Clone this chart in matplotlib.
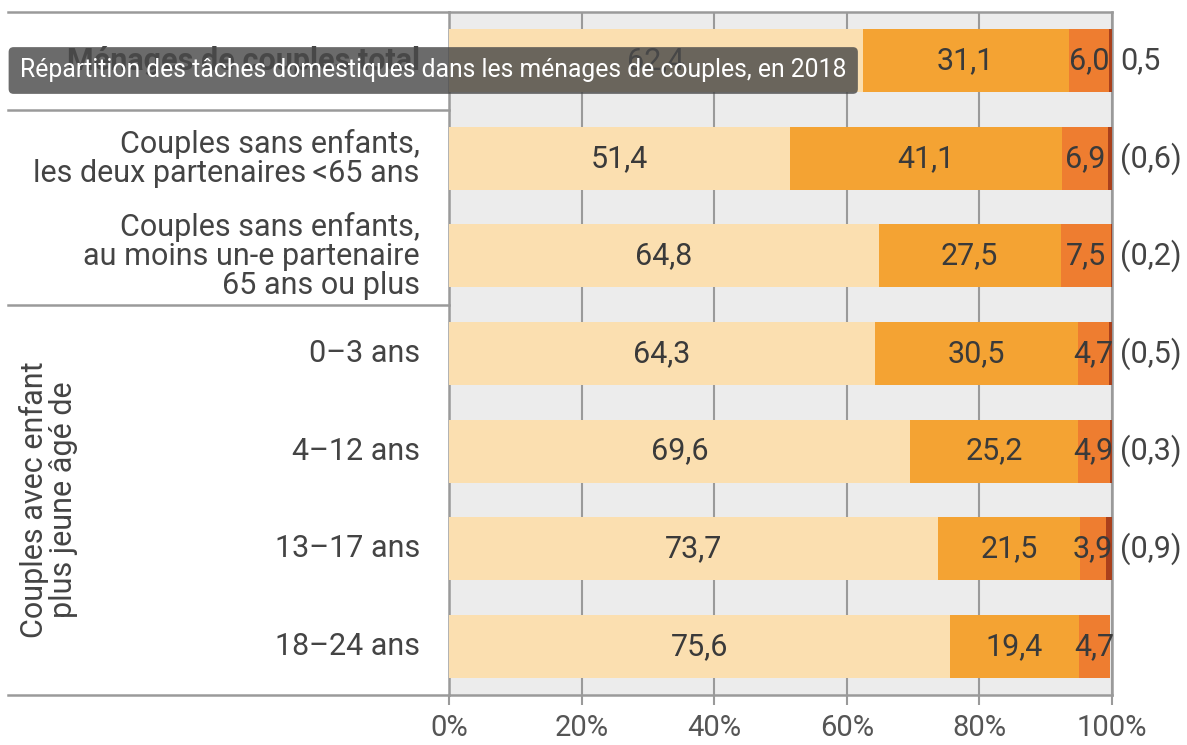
"""
Répartition des tâches domestiques dans les ménages de couples, en 2018.
"""
import numpy as np
import matplotlib.pyplot as plt
import matplotlib.transforms as mtransforms

plt.rcParams['font.family'] = ['Roboto', 'DejaVu Sans']

# Données
categories = [
    "Ménages de couples total",
    "Couples sans enfants,\nles deux partenaires\u2009<65 ans",
    "Couples sans enfants,\nau moins un-e partenaire\n65 ans ou plus",
    "0\u20133 ans",
    "4\u201312 ans",
    "13\u201317 ans",
    "18\u201324 ans",
]
part_1 = [62.4, 51.4, 64.8, 64.3, 69.6, 73.7, 75.6]
part_2 = [31.1, 41.1, 27.5, 30.5, 25.2, 21.5, 19.4]
part_3 = [6.0, 6.9, 7.5, 4.7, 4.9, 3.9, 4.7]
part_4 = [0.5, 0.6, 0.2, 0.5, 0.3, 0.9, 0.0]
labels_4 = ["0,5", "(0,6)", "(0,2)", "(0,5)", "(0,3)", "(0,9)", ""]
ticks = [0, 20, 40, 60, 80, 100]
tick_labels = ["0%", "20%", "40%", "60%", "80%", "100%"]
titre = "Répartition des tâches domestiques dans les ménages de couples, en 2018"
groupe = "Couples avec enfant\nplus jeune âgé de"

couleurs = ['#fbdfb0', '#f4a333', '#ee7d30', '#a9401c']
gris_texte = '#444444'
gris_ligne = '#9a9a9a'
taille = 22


def fmt(v):
    return f"{v:.1f}".replace('.', ',')


fig = plt.figure(figsize=(11.87, 7.45), dpi=100)
ax = fig.add_axes([449 / 1187, 1 - 695 / 745, 663 / 1187, 683 / 745])
ax.set_facecolor('#ececec')

y = np.arange(len(categories))
series = [part_1, part_2, part_3, part_4]
gauche = np.zeros(len(categories))
for k, vals in enumerate(series):
    vals = np.array(vals)
    ax.barh(y, vals, left=gauche, height=0.645, color=couleurs[k], zorder=3)
    if k < 3:
        for i, v in enumerate(vals):
            ax.text(gauche[i] + v / 2, y[i], fmt(v), ha='center', va='center',
                    fontsize=taille, color='#3a3a3a', zorder=4)
    gauche = gauche + vals

# valeurs de la dernière catégorie à droite
for i, lab in enumerate(labels_4):
    ax.text(101.2, y[i], lab, ha='left', va='center', fontsize=taille,
            color=gris_texte, clip_on=False)

# étiquettes des catégories
for i, cat in enumerate(categories):
    poids = 'bold' if i == 0 else 'normal'
    ax.text(-4.4, y[i], cat, ha='right', va='center', fontsize=taille,
            color=gris_texte, fontweight=poids, linespacing=1.0,
            multialignment='right', clip_on=False)

ax.set_xlim(0, 100)
ax.set_ylim(len(categories) - 0.5, -0.5)
ax.set_yticks([])
ax.set_xticks(ticks)
ax.set_xticklabels(tick_labels, fontsize=21, color='#555555')
ax.tick_params(axis='x', length=7, width=1.5, color=gris_ligne, pad=7)
ax.grid(axis='x', color=gris_ligne, linewidth=1.5, zorder=1)
for s in ['left', 'right', 'top', 'bottom']:
    ax.spines[s].set_color(gris_ligne)
    ax.spines[s].set_linewidth(1.8)

# lignes de séparation à gauche
trans = mtransforms.blended_transform_factory(ax.transAxes, ax.transData)
for yy in [-0.5, 0.5, 2.5, 6.5]:
    ax.plot([(8 - 449) / 663, 0], [yy, yy], transform=trans, color=gris_ligne,
            linewidth=1.8, clip_on=False, zorder=5)

# titre du groupe, vertical
fig.text(49 / 1187, 1 - 500 / 745, groupe, rotation=90, ha='center',
         va='center', fontsize=taille, color=gris_texte,
         linespacing=1.0, multialignment='center')

# infobulle
fig.text(20 / 1187, 1 - 70.5 / 745, titre, ha='left', va='center',
         fontsize=17.8, color='white', zorder=10,
         bbox=dict(boxstyle='round,pad=0.46,rounding_size=0.2',
                   facecolor='#4a4a4a', edgecolor='none', alpha=0.82))

fig.savefig('out.png', dpi=100)
